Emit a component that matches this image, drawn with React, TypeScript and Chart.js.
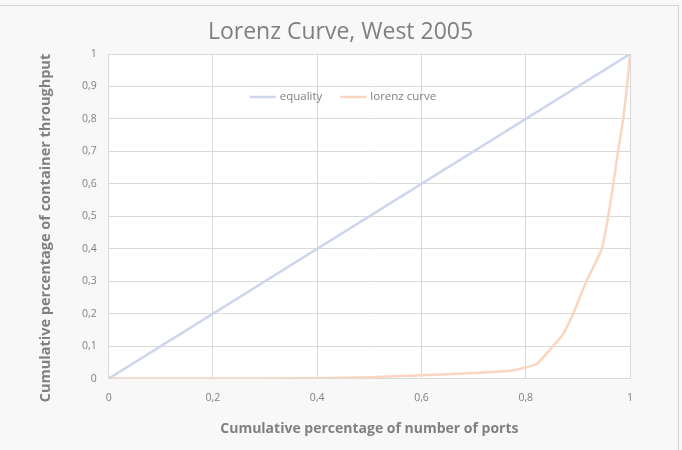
import React, { useEffect, useRef } from "react";
import { Chart, registerables } from "chart.js";

Chart.register(...registerables);

const equalityX = [0, 1];
const equalityY = [0, 1];

const lorenzX = [0, 0.2, 0.4, 0.5, 0.6, 0.7, 0.77, 0.789, 0.821, 0.856, 0.872, 0.891, 0.917, 0.946, 0.958, 0.968, 0.977, 0.987, 0.995, 1];
const lorenzY = [0, 0, 0.001, 0.004, 0.01, 0.017, 0.024, 0.03, 0.045, 0.107, 0.138, 0.2, 0.302, 0.4, 0.498, 0.6, 0.7, 0.8, 0.91, 1];

const xTicks = [0, 0.2, 0.4, 0.6, 0.8, 1];

const titleText = "Lorenz Curve, West 2005";
const xTitle = "Cumulative percentage of number of ports";
const yTitle = "Cumulative percentage of container throughput";

const fmt = (v: number) => String(Math.round(v * 10) / 10).replace(".", ",");

const FONT = "'Open Sans'";
const GREY = "#808080";

export default function App() {
  const ref = useRef<HTMLCanvasElement | null>(null);
  useEffect(() => {
    document.body.style.margin = "0";
    const ctx = ref.current!;
    const chart = new Chart(ctx, {
      type: "line",
      data: {
        datasets: [
          {
            label: "equality",
            data: equalityX.map((x, i) => ({ x, y: equalityY[i] })),
            borderColor: "rgb(206,214,238)",
            backgroundColor: "rgb(206,214,238)",
            borderWidth: 2.5,
            pointRadius: 0,
            tension: 0,
          },
          {
            label: "lorenz curve",
            data: lorenzX.map((x, i) => ({ x, y: lorenzY[i] })),
            borderColor: "rgb(250,214,192)",
            backgroundColor: "rgb(250,214,192)",
            borderWidth: 2.5,
            pointRadius: 0,
            tension: 0.15,
          },
        ],
      },
      options: {
        animation: false,
        responsive: false,
        layout: { padding: { left: 70, right: 52, top: 54, bottom: 12.5 } },
        plugins: {
          title: { display: false },
          legend: { display: false },
          tooltip: { enabled: false },
        },
        scales: {
          x: {
            type: "linear",
            min: 0,
            max: 1,
            afterBuildTicks: (axis: any) => {
              axis.ticks = xTicks.map((v) => ({ value: v }));
            },
            ticks: {
              color: GREY,
              font: { family: FONT, size: 10.5 },
              padding: 13,
              callback: (v: any) => fmt(Number(v)),
            },
            grid: { color: "#d9d9d9", drawTicks: false },
            border: { color: "#d9d9d9" },
            title: {
              display: true,
              text: xTitle,
              color: GREY,
              font: { family: FONT, size: 14, weight: "bold" },
              padding: { top: 3.5, bottom: 0 },
            },
          },
          y: {
            type: "linear",
            min: 0,
            max: 1,
            ticks: {
              stepSize: 0.1,
              color: GREY,
              font: { family: FONT, size: 10.5 },
              padding: 12,
              callback: (v: any) => fmt(Number(v)),
            },
            grid: { color: "#d9d9d9", drawTicks: false },
            border: { color: "#d9d9d9" },
          },
        },
      },
      plugins: [
        {
          id: "bg",
          beforeDraw: (c: any) => {
            const g = c.ctx;
            g.save();
            g.fillStyle = "#f8f8f8";
            g.fillRect(0, 0, c.width, c.height);
            g.strokeStyle = "#d4d4d4";
            g.lineWidth = 1;
            g.beginPath();
            g.moveTo(0, 5.5);
            g.lineTo(678.5, 5.5);
            g.lineTo(678.5, c.height);
            g.stroke();
            const a = c.chartArea;
            g.fillStyle = "#ffffff";
            g.fillRect(a.left, a.top, a.right - a.left, a.bottom - a.top);
            g.restore();
          },
        },
        {
          id: "texts",
          afterDraw: (c: any) => {
            const g = c.ctx;
            const a = c.chartArea;
            g.save();
            // chart title
            g.fillStyle = GREY;
            g.textAlign = "center";
            g.textBaseline = "middle";
            g.font = `23px ${FONT}`;
            g.fillText(titleText, 340.5, 32);
            // y axis title
            g.save();
            g.translate(46, 228);
            g.rotate(-Math.PI / 2);
            g.font = `bold 14.5px ${FONT}`;
            g.fillText(yTitle, 0, 0);
            g.restore();
            // legend inside plot
            const y = a.top + 43;
            let x = a.left + 141;
            g.textAlign = "left";
            g.font = `11.5px ${FONT}`;
            c.data.datasets.forEach((ds: any) => {
              g.strokeStyle = ds.borderColor;
              g.lineWidth = 2.5;
              g.beginPath();
              g.moveTo(x, y);
              g.lineTo(x + 26, y);
              g.stroke();
              g.fillStyle = GREY;
              g.fillText(ds.label, x + 30, y);
              x += 30 + g.measureText(ds.label).width + 18;
            });
            g.restore();
          },
        },
      ],
    } as any);
    return () => chart.destroy();
  }, []);
  return (
    <div style={{ width: 682, height: 450 }}>
      <canvas ref={ref} width={682} height={450} style={{ display: "block" }} />
    </div>
  );
}
